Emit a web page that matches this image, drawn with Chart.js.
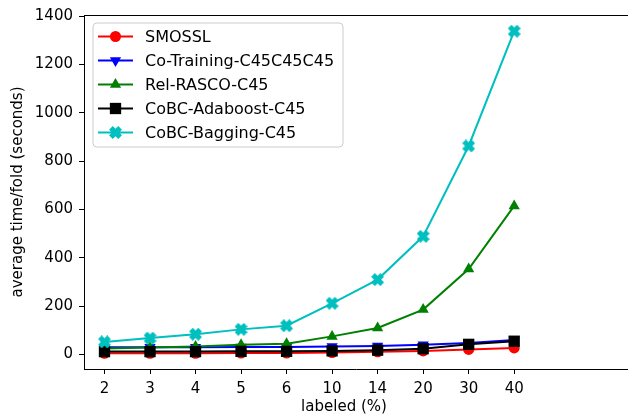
<!DOCTYPE html>
<html>
<head>
<meta charset="utf-8">
<script src="https://cdn.jsdelivr.net/npm/chart.js@4.4.0/dist/chart.umd.min.js"></script>
<style>
  html, body { margin: 0; padding: 0; background: #fff; }
  #wrap { width: 628px; height: 417px; }
</style>
</head>
<body>
<div id="wrap"><canvas id="timeChart" width="628" height="417"></canvas></div>
<script>
// x categories (labeled %)
const labeledPct = ['2', '3', '4', '5', '6', '10', '14', '20', '30', '40'];
const yTicks = [0, 200, 400, 600, 800, 1000, 1200, 1400];

// average time/fold (seconds)
const smossl      = [5, 5, 5, 6, 6, 8, 11, 15, 21, 27];
const coTraining  = [30, 30, 30, 31, 31, 33, 35, 40, 48, 60];
const relRasco    = [25, 29, 33, 40, 45, 75, 110, 186, 354, 615];
const cobcAda     = [12, 12, 12, 13, 13, 15, 18, 24, 42, 55];
const cobcBagging = [52, 68, 84, 104, 119, 212, 310, 489, 863, 1338];

const FONT = 'DejaVu Sans';

// filled "X" marker like matplotlib's 'X'
function makeXMarker(color, size) {
  const c = document.createElement('canvas');
  c.width = size; c.height = size;
  const g = c.getContext('2d');
  const h = size / 2, a = size * 0.2;
  g.translate(h, h);
  g.rotate(Math.PI / 4);
  g.fillStyle = color;
  g.fillRect(-h, -a, size, 2 * a);
  g.fillRect(-a, -h, 2 * a, size);
  return c;
}
const cyanX = makeXMarker('#00bfbf', 13);

const seriesDefs = [
  { label: 'SMOSSL', data: smossl, color: '#ff0000', style: 'circle', radius: 5.5, rot: 0 },
  { label: 'Co-Training-C45C45C45', data: coTraining, color: '#0000ff', style: 'triangle', radius: 6.5, rot: 180 },
  { label: 'Rel-RASCO-C45', data: relRasco, color: '#008000', style: 'triangle', radius: 6.5, rot: 0 },
  { label: 'CoBC-Adaboost-C45', data: cobcAda, color: '#000000', style: 'rect', radius: 8, rot: 0 },
  { label: 'CoBC-Bagging-C45', data: cobcBagging, color: '#00bfbf', style: cyanX, radius: 6, rot: 0 }
];

const datasets = seriesDefs.map((s, i) => ({
  label: s.label,
  data: s.data.map((v, k) => ({ x: k, y: v })),
  borderColor: s.color,
  backgroundColor: s.color,
  borderWidth: 2,
  pointStyle: s.style,
  pointRadius: s.radius,
  pointRotation: s.rot,
  pointBorderWidth: 0,
  pointBackgroundColor: s.color,
  tension: 0,
  clip: false,
  order: seriesDefs.length - i
}));

// matplotlib-ish legend, axis titles and top spine
const decorPlugin = {
  id: 'decor',
  afterDraw(chart) {
    const ctx = chart.ctx;
    const area = chart.chartArea;
    ctx.save();
    // top spine
    ctx.strokeStyle = '#000';
    ctx.lineWidth = 1;
    ctx.beginPath();
    ctx.moveTo(area.left, area.top + 0.5);
    ctx.lineTo(area.right, area.top + 0.5);
    ctx.stroke();

    // axis titles
    ctx.fillStyle = '#000';
    ctx.font = '15px "' + FONT + '"';
    ctx.textAlign = 'center';
    ctx.textBaseline = 'middle';
    ctx.fillText('labeled (%)', 344, 407);
    ctx.translate(18, 192);
    ctx.rotate(-Math.PI / 2);
    ctx.fillText('average time/fold (seconds)', 0, 0);
    ctx.restore();

    // legend
    ctx.save();
    const lx = 93, ly = 23, lw = 250, lh = 124, r = 4;
    ctx.beginPath();
    ctx.moveTo(lx + r, ly);
    ctx.arcTo(lx + lw, ly, lx + lw, ly + lh, r);
    ctx.arcTo(lx + lw, ly + lh, lx, ly + lh, r);
    ctx.arcTo(lx, ly + lh, lx, ly, r);
    ctx.arcTo(lx, ly, lx + lw, ly, r);
    ctx.closePath();
    ctx.fillStyle = 'rgba(255,255,255,0.8)';
    ctx.fill();
    ctx.strokeStyle = '#cccccc';
    ctx.lineWidth = 1;
    ctx.stroke();

    ctx.font = '16px "' + FONT + '"';
    ctx.textAlign = 'left';
    ctx.textBaseline = 'middle';
    seriesDefs.forEach((s, i) => {
      const y = 36.5 + i * 24;
      ctx.strokeStyle = s.color;
      ctx.lineWidth = 2;
      ctx.beginPath();
      ctx.moveTo(98, y);
      ctx.lineTo(133, y);
      ctx.stroke();
      ctx.fillStyle = s.color;
      Chart.helpers.drawPoint(ctx, {
        pointStyle: s.style, radius: s.radius, rotation: s.rot, borderWidth: 0
      }, 115.5, y);
      ctx.fillStyle = '#000';
      ctx.fillText(s.label, 145, y + 1);
    });
    ctx.restore();
  }
};

const ctx = document.getElementById('timeChart').getContext('2d');
const timeChart = new Chart(ctx, {
  type: 'line',
  data: { datasets: datasets },
  plugins: [decorPlugin],
  options: {
    responsive: false,
    animation: false,
    layout: { autoPadding: false, padding: { top: 15, right: 0, left: 0, bottom: 0 } },
    plugins: {
      legend: { display: false },
      tooltip: { enabled: false }
    },
    scales: {
      x: {
        type: 'linear',
        min: -0.45,
        max: 11.5,
        afterBuildTicks: scale => { scale.ticks = labeledPct.map((_, i) => ({ value: i })); },
        afterFit: scale => { scale.height = 48; },
        ticks: {
          callback: val => labeledPct[val],
          autoSkip: false,
          maxRotation: 0,
          padding: 6,
          color: '#000',
          font: { family: FONT, size: 15 }
        },
        grid: { drawOnChartArea: false, drawTicks: true, tickLength: 5, color: '#000', tickWidth: 1 },
        border: { display: true, color: '#000', width: 1 }
      },
      y: {
        min: -60,
        max: 1405,
        afterBuildTicks: scale => { scale.ticks = yTicks.map(v => ({ value: v })); },
        afterFit: scale => { scale.width = 84; },
        ticks: {
          callback: val => String(val),
          padding: 6,
          color: '#000',
          font: { family: FONT, size: 15 }
        },
        grid: { drawOnChartArea: false, drawTicks: true, tickLength: 5, color: '#000', tickWidth: 1 },
        border: { display: true, color: '#000', width: 1 }
      }
    }
  }
});
</script>
</body>
</html>
